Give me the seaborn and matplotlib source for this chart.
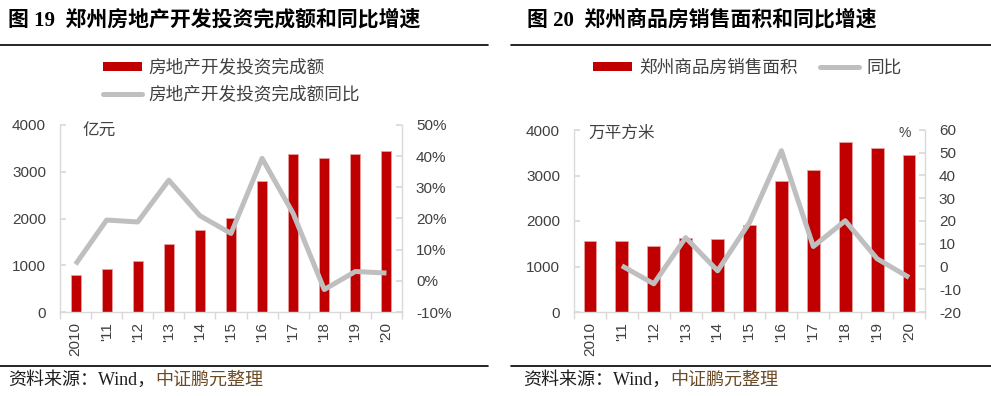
import numpy as np
import pandas as pd
import matplotlib
matplotlib.use("Agg")
import matplotlib.pyplot as plt
import matplotlib.patches as mpatches
from matplotlib.lines import Line2D
import seaborn as sns

# ---------------- data ----------------
years = ["2010", "'11", "'12", "'13", "'14", "'15", "'16", "'17", "'18", "'19", "'20"]
invest = [786, 929, 1100, 1464, 1764, 2021, 2800, 3386, 3286, 3379, 3450]
invest_yoy = [5.3, 19.5, 18.9, 32.3, 20.9, 15.2, 39.3, 21.6, -2.8, 3.0, 2.5]
sales_area = [1550, 1557, 1440, 1630, 1594, 1909, 2874, 3115, 3729, 3612, 3444]
sales_yoy = [np.nan, 0.3, -7.6, 12.7, -1.9, 19.3, 50.9, 8.8, 20.1, 3.4, -4.8]

title_left = "图 19  郑州房地产开发投资完成额和同比增速"
title_right = "图 20  郑州商品房销售面积和同比增速"
leg_left = ["房地产开发投资完成额", "房地产开发投资完成额同比"]
leg_right = ["郑州商品房销售面积", "同比"]
unit_left = "亿元"
unit_right = "万平方米"
source_a = "资料来源：Wind，"
source_b = "中证鹏元整理"

# ---------------- style ----------------
sns.set_theme(style="white")
plt.rcParams["font.family"] = ["Liberation Sans", "Noto Sans CJK SC", "DejaVu Sans"]
plt.rcParams["axes.unicode_minus"] = True

RED = "#C00000"
GRAY = "#BFBFBF"
SPINE = "#D9D9D9"
TXT = "#404040"
W, H = 991, 396

fig = plt.figure(figsize=(W / 100, H / 100), dpi=100)


def fx(px):
    return px / W


def fy(py):
    return 1 - py / H


def make_panel(rect, cats, bars, yoy, bar_w, y_max, y2_lim, y2_ticks, y2_fmt):
    ax = fig.add_axes(rect)
    df = pd.DataFrame({"cat": cats, "val": bars})
    sns.barplot(data=df, x="cat", y="val", ax=ax, color=RED, width=bar_w,
                saturation=1, edgecolor="#E8A0A0", linewidth=0.6)
    ax.set_xlim(-0.5, len(cats) - 0.5)
    ax.set_ylim(0, y_max)
    ax.set_yticks(np.arange(0, y_max + 1, 1000))
    ax.set_xlabel("")
    ax.set_ylabel("")
    ax2 = ax.twinx()
    ldf = pd.DataFrame({"pos": np.arange(len(cats)), "yoy": yoy})
    sns.lineplot(data=ldf, x="pos", y="yoy", ax=ax2, color=GRAY, linewidth=3.6,
                 solid_capstyle="butt")
    ax2.set_ylim(*y2_lim)
    ax2.set_yticks(y2_ticks)
    ax2.set_yticklabels([y2_fmt(v) for v in y2_ticks])
    ax2.set_ylabel("")
    ax2.set_xlabel("")
    ax2.set_xlim(-0.5, len(cats) - 0.5)

    for a in (ax, ax2):
        a.grid(False)
        for s in a.spines.values():
            s.set_color(SPINE)
            s.set_linewidth(1.0)
        a.spines["top"].set_visible(False)
    ax.spines["right"].set_visible(False)
    ax2.spines["left"].set_visible(False)
    ax2.spines["bottom"].set_visible(False)

    ax.tick_params(axis="y", which="major", direction="in", length=4, color=SPINE,
                   labelsize=11, labelcolor=TXT, pad=10, left=True)
    ax2.tick_params(axis="y", which="major", direction="in", length=4, color=SPINE,
                    labelsize=11, labelcolor=TXT, pad=10, right=True)
    ax.set_xticks(np.arange(len(cats)))
    ax.set_xticklabels(cats, rotation=90)
    ax.set_xticks(np.arange(len(cats) + 1) - 0.5, minor=True)
    ax.tick_params(axis="x", which="major", length=0, labelsize=11, labelcolor=TXT, pad=7)
    ax.tick_params(axis="x", which="minor", direction="out", length=5, color=SPINE,
                   bottom=True)
    return ax, ax2


# left panel: axes 60..402 px wide, 125..312 px tall
axL, axL2 = make_panel([fx(60), fy(312), fx(342), (312 - 125) / H], years, invest,
                       invest_yoy, 0.32, 4000, (-10, 50), list(range(-10, 51, 10)),
                       lambda v: f"{v}%")
axL.text((82 - 60) / 342, (312 - 131) / 187, unit_left, transform=axL.transAxes,
         fontsize=12, color=TXT, va="center", ha="left")

# right panel: axes 574..925 px wide, 130..312 px tall
axR, axR2 = make_panel([fx(574), fy(312), fx(351), (312 - 130) / H], years, sales_area,
                       sales_yoy, 0.40, 4000, (-20, 60), list(range(-20, 61, 10)),
                       lambda v: f"{v}")
axR.text((588 - 574) / 351, (312 - 133) / 182, unit_right, transform=axR.transAxes,
         fontsize=12, color=TXT, va="center", ha="left")
axR.text((905 - 574) / 351, (312 - 133) / 182, "%", transform=axR.transAxes,
         fontsize=10, color=TXT, va="center", ha="center")

# ---------------- legends ----------------
h_bar = mpatches.Patch(facecolor=RED, edgecolor="none")
h_line = Line2D([0], [0], color=GRAY, linewidth=3.6)
fig.legend([h_bar, h_line], leg_left, loc="upper left",
           bbox_to_anchor=(fx(103), fy(60)), frameon=False, fontsize=12.7,
           labelcolor=TXT, handlelength=2.2, handleheight=0.45, handletextpad=0.4,
           labelspacing=0.55, borderpad=0, borderaxespad=0)
fig.legend([h_bar, h_line], leg_right, loc="upper left",
           bbox_to_anchor=(fx(593), fy(60)), frameon=False, fontsize=12.7,
           labelcolor=TXT, handlelength=2.2, handleheight=0.45, handletextpad=0.4,
           ncol=2, columnspacing=1.3, borderpad=0, borderaxespad=0)

# ---------------- titles, rules, sources ----------------
title_font = ["Liberation Serif", "Noto Sans CJK SC"]
fig.text(fx(8), fy(20), title_left, fontsize=15, fontweight="bold", family=title_font,
         color="black", va="center", ha="left")
fig.text(fx(527), fy(20), title_right, fontsize=15, fontweight="bold",
         family=title_font, color="black", va="center", ha="left")

for x0, x1 in ((0, 488), (511, 991)):
    for yy in (45, 366):
        fig.add_artist(Line2D([fx(x0), fx(x1)], [fy(yy), fy(yy)], color="black",
                              linewidth=1.2, transform=fig.transFigure))

for x0, ax in ((8, axL), (523, axR)):
    t1 = fig.text(fx(x0), fy(380), source_a, fontsize=13, family=title_font,
                  color="#1f1f1f", va="center", ha="left")
    ax.annotate(source_b, xy=(1, 0.5), xycoords=t1, va="center", ha="left",
                fontsize=13, family=title_font, color="#6b4a26",
                annotation_clip=False)

fig.savefig("out.png", dpi=100)
